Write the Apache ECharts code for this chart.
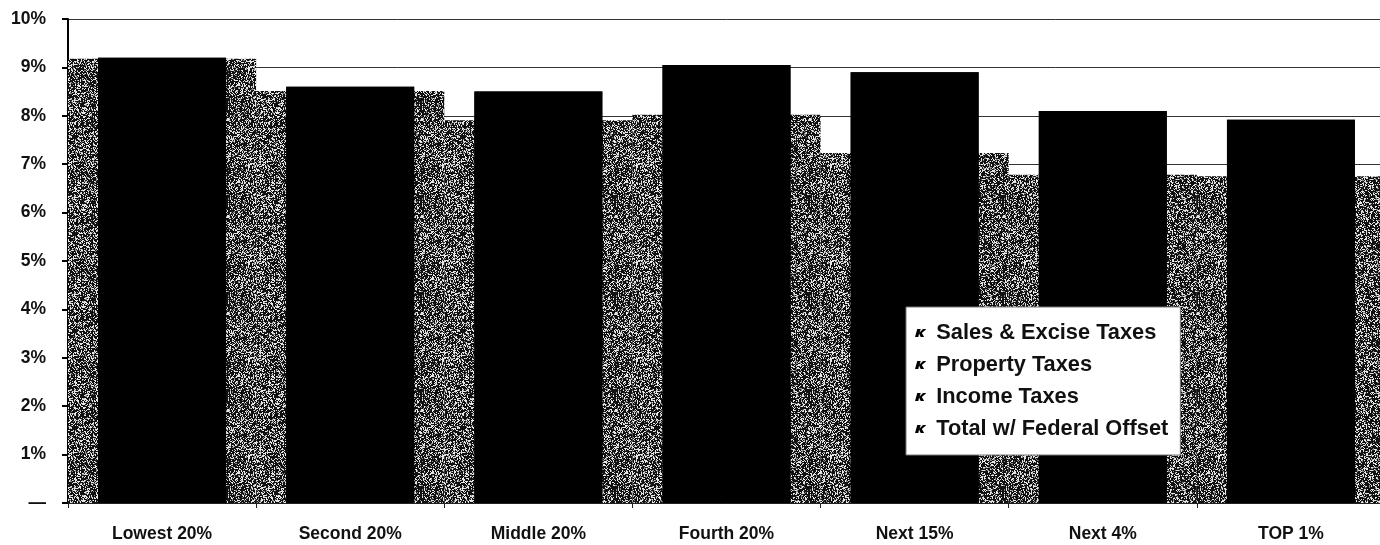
<!DOCTYPE html>
<html>
<head>
<meta charset="utf-8">
<script src="https://cdn.jsdelivr.net/npm/echarts@6/dist/echarts.min.js"></script>
<style>
  html, body { margin: 0; padding: 0; background: #fff; overflow: hidden; }
  /* plot area runs slightly past the right edge of the page */
  #chart { width: 1385px; height: 545px; }
</style>
</head>
<body>
<div id="chart"></div>
<script>
// Income groups
const categories = ['Lowest 20%', 'Second 20%', 'Middle 20%', 'Fourth 20%', 'Next 15%', 'Next 4%', 'TOP 1%'];

// State & local taxes as a share of income (%)
const salesExcise = [6.1, 5.2, 4.5, 4.0, 3.1, 2.1, 1.2];
const propertyTax = [2.6, 2.3, 2.4, 2.7, 2.6, 2.4, 1.5];
const incomeTax   = [0.5, 1.1, 1.6, 2.35, 3.2, 3.6, 5.22];
const totalOffset = [9.18, 8.51, 7.91, 8.02, 7.23, 6.78, 6.75];

// Value axis ticks
const yTicks = [0, 1, 2, 3, 4, 5, 6, 7, 8, 9, 10];

const FONT = '"Liberation Sans", Arial, sans-serif';

// Sum of the three taxes, used as a solid backing under the stacked segments
const taxSum = categories.map((_, i) => +(salesExcise[i] + propertyTax[i] + incomeTax[i]).toFixed(2));

// Stippled texture for the federal-offset bars (deterministic speckle)
function makeStipple() {
  const size = 97;
  const c = document.createElement('canvas');
  c.width = size; c.height = size;
  const ctx = c.getContext('2d');
  ctx.fillStyle = '#111';
  ctx.fillRect(0, 0, size, size);
  let s = 12345;
  function next() { s = (s * 1103515245 + 12345) & 0x7fffffff; return s / 0x7fffffff; }
  for (let y = 0; y < size; y++) {
    for (let x = 0; x < size; x++) {
      const r = next();
      if (r < 0.27) { ctx.fillStyle = '#e6e6e6'; ctx.fillRect(x, y, 1, 1); }
      else if (r < 0.38) { ctx.fillStyle = '#8a8a8a'; ctx.fillRect(x, y, 1, 1); }
    }
  }
  return c;
}
const stipple = { image: makeStipple(), repeat: 'repeat' };

const legendIcon = 'path://M2,0 L5,0 L4,3 L7,0 L10,0 L6,3.5 L8,7 L5,7 L3.5,4 L3,7 L0,7 Z';
const iconStyle = { color: '#000', borderWidth: 0 };

const blackStyle = { color: '#000', borderWidth: 0 };

const chart = echarts.init(document.getElementById('chart'), null, { renderer: 'canvas' });

chart.setOption({
  animation: false,
  backgroundColor: '#fff',
  grid: { left: 68, right: 0, top: 19, bottom: 42, containLabel: false },
  legend: {
    orient: 'vertical',
    left: 906,
    top: 307,
    backgroundColor: '#fff',
    borderColor: '#777',
    borderWidth: 1,
    borderRadius: 0,
    padding: [14, 12, 14, 9],
    itemWidth: 13,
    itemHeight: 8,
    itemGap: 8,
    textStyle: { fontFamily: FONT, fontWeight: 'bold', fontSize: 21.8, color: '#111', lineHeight: 24, padding: [0, 0, 0, 4] },
    data: [
      { name: 'Sales & Excise Taxes', icon: legendIcon, itemStyle: iconStyle },
      { name: 'Property Taxes', icon: legendIcon, itemStyle: iconStyle },
      { name: 'Income Taxes', icon: legendIcon, itemStyle: iconStyle },
      { name: 'Total w/ Federal Offset', icon: legendIcon, itemStyle: iconStyle }
    ]
  },
  xAxis: [
    {
      type: 'category',
      data: categories,
      axisLine: { show: true, lineStyle: { color: '#222', width: 1 } },
      axisTick: { show: true, length: 5, lineStyle: { color: '#222', width: 1 } },
      axisLabel: { fontFamily: FONT, fontWeight: 'bold', fontSize: 17.5, color: '#111', margin: 22 }
    },
    {
      type: 'category',
      data: categories,
      show: false
    }
  ],
  yAxis: {
    type: 'value',
    min: yTicks[0],
    max: yTicks[yTicks.length - 1],
    interval: 1,
    axisLine: { show: true, lineStyle: { color: '#000', width: 2 } },
    axisTick: { show: true, length: 6, lineStyle: { color: '#000', width: 2 } },
    splitLine: { show: true, lineStyle: { color: '#333', width: 1 } },
    axisLabel: {
      fontFamily: FONT, fontWeight: 'bold', fontSize: 17.5, color: '#111', margin: 22,
      formatter: v => (v === 0 ? '\u2014' : v + '%')
    }
  },
  series: [
    {
      name: 'Total w/ Federal Offset',
      type: 'bar',
      xAxisIndex: 1,
      barWidth: '100%',
      z: 1,
      itemStyle: { color: stipple },
      data: totalOffset
    },
    {
      name: 'backing',
      type: 'bar',
      xAxisIndex: 0,
      barWidth: '68%',
      barGap: '-100%',
      z: 2,
      silent: true,
      itemStyle: blackStyle,
      data: taxSum
    },
    {
      name: 'Sales & Excise Taxes',
      type: 'bar',
      stack: 'taxes',
      xAxisIndex: 0,
      barWidth: '68%',
      barGap: '-100%',
      z: 3,
      itemStyle: blackStyle,
      data: salesExcise
    },
    {
      name: 'Property Taxes',
      type: 'bar',
      stack: 'taxes',
      xAxisIndex: 0,
      barWidth: '68%',
      barGap: '-100%',
      z: 3,
      itemStyle: blackStyle,
      data: propertyTax
    },
    {
      name: 'Income Taxes',
      type: 'bar',
      stack: 'taxes',
      xAxisIndex: 0,
      barWidth: '68%',
      barGap: '-100%',
      z: 3,
      itemStyle: blackStyle,
      data: incomeTax
    }
  ]
});
</script>
</body>
</html>
